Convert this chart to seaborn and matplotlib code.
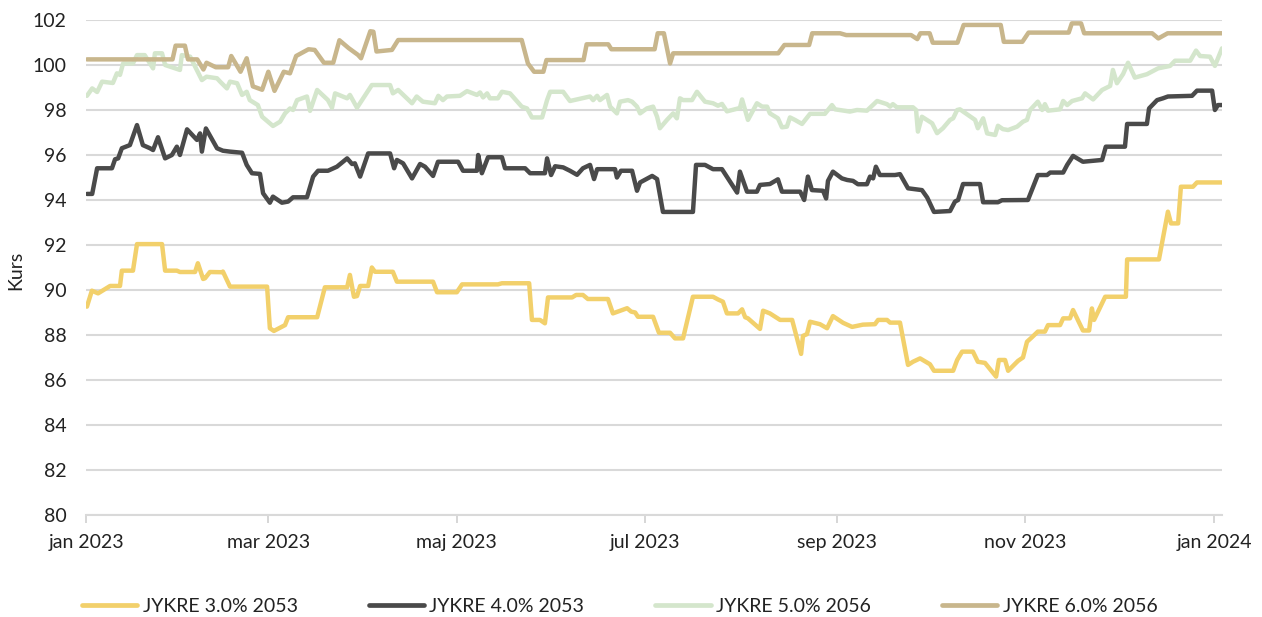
import pandas as pd
import matplotlib
matplotlib.use("Agg")
import matplotlib.pyplot as plt
import seaborn as sns

# Bond price series (Kurs); x positions are days counted from 1 Jan 2023
series_names = ["JYKRE 3.0% 2053", "JYKRE 4.0% 2053", "JYKRE 5.0% 2056", "JYKRE 6.0% 2056"]
series_colors = ["#F2D06B", "#4A4A4A", "#D4E6CC", "#C8B68C"]

days_30 = [0.3, 1.9, 3.9, 7.8, 11, 11.6, 15.2, 16.5, 24.6, 25.6,
           29.4, 30.4, 35.3, 36.2, 37.9, 38.5, 40.1, 44, 44.3, 46.6,
           58.6, 59.5, 60.8, 64.4, 65.4, 74.8, 77.3, 84.5, 85.4, 86.7,
           87.7, 88.7, 91.3, 92.5, 93.5, 99.3, 100.6, 112.3, 113.6, 120,
           121.7, 133.3, 134.6, 143.4, 144.3, 146.9, 148.5, 149.5, 157.3, 158.6,
           160.8, 162.4, 168.9, 170.5, 175.1, 176.4, 177.7, 178.6, 183.5, 185.4,
           189, 190.6, 193.2, 196.4, 202.9, 204.5, 206.1, 207.4, 211, 212.3,
           213.3, 214.2, 218.1, 219.1, 221.3, 224.6, 228.5, 231.4, 232, 233.3,
           234.3, 237.5, 239.8, 241.7, 245, 247.9, 251.4, 255.3, 256.3, 259.2,
           260.2, 263.4, 266, 267.6, 269.9, 273.1, 274.4, 280.6, 281.9, 283.5,
           287, 288.6, 290.9, 294.5, 295.4, 297.4, 298.4, 301.6, 303.2, 304.5,
           306.1, 308, 310.3, 311.3, 315.2, 316.2, 318.4, 319.4, 322.6, 324.6,
           325.5, 326.2, 329.8, 336.5, 336.9, 347.2, 350.1, 351.1, 353.4, 354.3,
           358.2, 359.5, 367.6]
kurs_30 = [89.26, 89.97, 89.85, 90.18, 90.18, 90.86, 90.86, 92.04, 92.04, 90.86,
           90.86, 90.8, 90.8, 91.19, 90.49, 90.52, 90.8, 90.79, 90.82, 90.15,
           90.15, 88.3, 88.18, 88.44, 88.79, 88.79, 90.12, 90.12, 90.67, 89.7,
           89.73, 90.18, 90.18, 91.0, 90.81, 90.81, 90.37, 90.37, 89.9, 89.9,
           90.25, 90.25, 90.3, 90.3, 88.67, 88.67, 88.52, 89.67, 89.67, 89.78,
           89.78, 89.6, 89.6, 88.96, 89.19, 89.04, 89.0, 88.81, 88.81, 88.1,
           88.1, 87.85, 87.85, 89.7, 89.7, 89.58, 89.48, 88.96, 88.96, 89.14,
           88.79, 88.74, 88.27, 89.08, 88.96, 88.67, 88.67, 87.16, 87.96, 88.04,
           88.59, 88.48, 88.3, 88.84, 88.54, 88.36, 88.46, 88.48, 88.67, 88.67,
           88.55, 88.55, 86.67, 86.81, 86.96, 86.7, 86.41, 86.41, 86.89, 87.26,
           87.26, 86.81, 86.76, 86.15, 86.89, 86.89, 86.41, 86.85, 87.0, 87.7,
           87.9, 88.15, 88.15, 88.44, 88.44, 88.74, 88.74, 89.11, 88.2, 88.2,
           89.18, 88.67, 89.7, 89.7, 91.36, 91.36, 93.48, 92.96, 92.96, 94.59,
           94.59, 94.78, 94.78]

days_40 = [0.3, 2, 3.6, 8.4, 9.4, 10.4, 11.6, 14.2, 16.5, 18.4,
           20.7, 21.7, 23.3, 25.6, 27.8, 29.4, 30.4, 32.7, 35.9, 36.9,
           37.5, 38.8, 42.4, 44.3, 46.6, 50.5, 52, 53.7, 56.3, 57.3,
           59.5, 60.5, 63.4, 65.4, 67, 71.5, 73.5, 75.1, 78.3, 81.2,
           84.5, 86.1, 87, 88.7, 91.3, 98.4, 99.7, 100.6, 102.6, 105.5,
           108.1, 109.7, 112.3, 113.9, 120.4, 122, 126.5, 126.9, 128.1, 130.1,
           134.6, 135.6, 142.1, 143.7, 148.5, 149.2, 150.5, 151.8, 154.4, 156.6,
           158.9, 160.8, 163.1, 164.4, 165.4, 171.2, 171.8, 173.1, 176.7, 178.3,
           179.3, 183.2, 184.8, 186.7, 196.4, 197.4, 200.3, 202.9, 205.8, 210.7,
           211.6, 213.9, 217.1, 218.1, 221.3, 223.9, 225.2, 231.1, 232.4, 233.6,
           234.9, 238.5, 239.5, 240.1, 241.7, 244.6, 246.3, 248.2, 249.8, 252.7,
           253.7, 254.7, 255.6, 256.9, 261.8, 263.4, 266, 270.5, 272.2, 274.4,
           279.6, 281.2, 282.2, 283.8, 289.3, 290.3, 295.1, 296.4, 304.8, 308,
           311, 312, 316.2, 317.5, 319.4, 322.6, 328.8, 330, 336.2, 336.9,
           343.3, 344, 346.6, 348.5, 350.1, 357.9, 359.5, 364.4, 365.3, 366.3,
           367.6]
kurs_40 = [94.27, 94.27, 95.41, 95.41, 95.81, 95.85, 96.3, 96.44, 97.33, 96.44,
           96.3, 96.22, 96.79, 95.85, 96.0, 96.37, 96.0, 97.14, 96.67, 96.96,
           96.15, 97.18, 96.3, 96.19, 96.15, 96.1, 95.56, 95.19, 95.16, 94.3,
           93.88, 94.15, 93.88, 93.93, 94.12, 94.12, 95.04, 95.3, 95.3, 95.48,
           95.85, 95.6, 95.63, 95.04, 96.07, 96.07, 95.41, 95.78, 95.63, 94.96,
           95.6, 95.48, 95.07, 95.7, 95.7, 95.3, 95.3, 96.0, 95.19, 95.9,
           95.9, 95.41, 95.41, 95.19, 95.19, 95.85, 95.11, 95.5, 95.45, 95.3,
           95.12, 95.41, 95.56, 94.93, 95.37, 95.37, 95.0, 95.3, 95.3, 94.41,
           94.78, 95.07, 94.93, 93.47, 93.47, 95.56, 95.56, 95.37, 95.37, 94.33,
           95.26, 94.37, 94.37, 94.67, 94.71, 94.92, 94.37, 94.37, 94.0, 95.04,
           94.44, 94.41, 94.07, 94.85, 95.26, 94.96, 94.89, 94.85, 94.7, 94.7,
           95.04, 94.96, 95.48, 95.11, 95.11, 95.15, 94.52, 94.44, 94.11, 93.47,
           93.51, 93.93, 94.0, 94.71, 94.71, 93.9, 93.9, 93.99, 94.0, 95.11,
           95.11, 95.22, 95.22, 95.56, 95.96, 95.7, 95.78, 96.37, 96.37, 97.38,
           97.38, 98.07, 98.44, 98.52, 98.6, 98.63, 98.86, 98.86, 98.0, 98.22,
           98.22]

days_50 = [0.3, 2, 3.6, 5.2, 8.7, 10, 11, 12, 15.2, 16.5,
           19, 21.7, 22.3, 24.6, 25.6, 28.8, 30.4, 31, 33.7, 37.5,
           39, 42.4, 43.4, 45.6, 46.6, 48.9, 50.5, 52, 53, 55.6,
           57, 60.5, 62.8, 64.4, 66, 67, 68.3, 71.5, 72.5, 74.8,
           78.3, 79.6, 80.6, 84.5, 85.4, 87.7, 92.5, 98.4, 99.3, 101,
           105.5, 107, 109, 112.9, 114, 115.5, 116.8, 121, 123.3, 126.5,
           127.5, 128.5, 129.8, 130.7, 133.3, 134.6, 137.2, 141, 142.7, 144.3,
           147.6, 149.2, 150.2, 154.4, 156.6, 163.1, 164.1, 165.4, 166.3, 168.6,
           169.6, 171.8, 172.8, 175.4, 176.7, 178.3, 179.3, 181.5, 183.5, 184.8,
           185.7, 188, 190, 191.2, 192.2, 193.2, 196.1, 197.7, 200.3, 202.9,
           204.5, 205.8, 207.4, 211.6, 212.3, 214.2, 217.1, 218.8, 220.4, 221.3,
           223.9, 225.2, 226.8, 227.8, 229.4, 231.7, 234.3, 239.1, 241.4, 242.4,
           247.2, 249.5, 252.7, 256, 259.2, 260.2, 261.1, 262.4, 267.6, 268.6,
           269.2, 270.5, 273.8, 275.4, 277.3, 279.6, 280.6, 281.9, 282.8, 285.4,
           287.7, 288.6, 290.3, 291.6, 294.2, 295.1, 296.7, 298.4, 301.3, 303.2,
           304.5, 305.5, 308, 309.4, 310.3, 311.3, 315.2, 316.2, 317.5, 319.1,
           322.3, 323.3, 325.9, 328.8, 331.4, 332.3, 333.6, 335.6, 337.2, 339.4,
           343.3, 346.9, 350.8, 352.4, 357.3, 359.2, 360.5, 363.7, 365.3, 367.6]
kurs_50 = [98.63, 98.96, 98.8, 99.26, 99.2, 99.63, 99.56, 100.07, 100.07, 100.44,
           100.44, 99.85, 100.52, 100.52, 100.0, 99.85, 99.78, 100.44, 100.37, 99.33,
           99.48, 99.41, 99.26, 98.96, 99.26, 99.19, 98.67, 98.81, 98.44, 98.22,
           97.7, 97.29, 97.48, 97.85, 98.07, 98.0, 98.44, 98.6, 97.96, 98.89,
           98.44, 98.1, 98.74, 98.52, 98.67, 98.1, 99.11, 99.11, 98.74, 98.89,
           98.3, 98.6, 98.37, 98.3, 98.63, 98.44, 98.6, 98.63, 98.84, 98.67,
           98.78, 98.56, 98.74, 98.52, 98.52, 98.81, 98.74, 98.15, 98.07, 97.67,
           97.67, 98.44, 98.81, 98.81, 98.4, 98.6, 98.44, 98.63, 98.44, 98.67,
           98.15, 97.85, 98.37, 98.44, 98.37, 98.15, 97.85, 98.07, 98.15, 97.7,
           97.19, 97.56, 97.85, 97.63, 98.52, 98.44, 98.44, 98.81, 98.37, 98.3,
           98.19, 98.27, 97.94, 98.09, 98.47, 97.56, 98.3, 98.15, 98.15, 97.85,
           97.63, 97.23, 97.26, 97.67, 97.56, 97.38, 97.83, 97.83, 98.22, 98.03,
           97.93, 98.0, 97.97, 98.4, 98.26, 98.15, 98.26, 98.12, 98.12, 98.0,
           97.04, 97.7, 97.41, 96.97, 97.19, 97.56, 97.63, 98.0, 98.03, 97.78,
           97.56, 97.19, 97.63, 96.96, 96.89, 97.3, 97.15, 97.11, 97.26, 97.48,
           97.56, 98.0, 98.37, 98.0, 98.26, 97.97, 98.03, 98.4, 98.22, 98.4,
           98.52, 98.74, 98.47, 98.89, 99.07, 99.78, 99.19, 99.6, 100.1, 99.44,
           99.59, 99.85, 99.96, 100.19, 100.19, 100.64, 100.4, 100.37, 99.96, 100.74]

days_60 = [0.3, 28, 29, 32, 33, 36, 38, 39, 42, 46,
           47, 50, 52, 54, 57, 59, 61, 64, 66, 68,
           72, 74, 77, 80, 82, 85, 88, 89, 92, 93,
           94, 99, 101, 141, 143, 145, 148, 149, 161, 162,
           169, 170, 184, 185, 187, 189, 190, 224, 226, 234,
           235, 244, 246, 267, 269, 270, 273, 274, 282, 284,
           296, 297, 303, 305, 318, 319, 322, 323, 345, 347,
           350, 367.6]
kurs_60 = [100.25, 100.25, 100.86, 100.86, 100.25, 100.25, 99.8, 100.1, 99.9, 99.9,
           100.4, 99.7, 100.3, 99.05, 98.9, 99.7, 98.85, 99.7, 99.63, 100.4,
           100.7, 100.67, 100.1, 100.1, 101.1, 100.75, 100.45, 100.3, 101.5, 101.48,
           100.6, 100.67, 101.11, 101.11, 100.07, 99.7, 99.7, 100.22, 100.22, 100.92,
           100.92, 100.7, 100.7, 101.41, 101.41, 100.07, 100.52, 100.52, 100.89, 100.89,
           101.41, 101.41, 101.33, 101.33, 101.15, 101.41, 101.41, 100.99, 100.99, 101.78,
           101.78, 101.03, 101.03, 101.44, 101.44, 101.85, 101.85, 101.41, 101.41, 101.18,
           101.41, 101.41]

# Axis ticks
tick_dates = ["2023-01-01", "2023-03-01", "2023-05-01", "2023-07-01",
              "2023-09-01", "2023-11-01", "2024-01-01"]
tick_labels = ["jan 2023", "mar 2023", "maj 2023", "jul 2023",
               "sep 2023", "nov 2023", "jan 2024"]
y_ticks = list(range(80, 103, 2))

start = pd.Timestamp("2023-01-01")
frames = []
for name, d, k in zip(series_names,
                      [days_30, days_40, days_50, days_60],
                      [kurs_30, kurs_40, kurs_50, kurs_60]):
    frames.append(pd.DataFrame({
        "Dato": start + pd.to_timedelta(d, unit="D"),
        "Kurs": k,
        "Serie": name,
    }))
df = pd.concat(frames, ignore_index=True)

sns.set_theme(style="white")
plt.rcParams["font.family"] = ["Lato", "DejaVu Sans"]

FS = 14
TXT = "#222222"
W, H = 1262, 617
fig = plt.figure(figsize=(W / 100, H / 100), dpi=100)
ax = fig.add_axes([86 / W, 1 - 515 / H, (1222 - 86) / W, (515 - 20) / H])

sns.lineplot(data=df, x="Dato", y="Kurs", hue="Serie", hue_order=series_names,
             palette=series_colors, linewidth=3.2, estimator=None, sort=False,
             legend=False, ax=ax)
for ln in ax.lines:
    ln.set_solid_joinstyle("round")
    ln.set_solid_capstyle("round")

grid_col = "#D9D9D9"
ax.set_ylim(80, 102)
ax.set_yticks(y_ticks)
ax.set_xlim(start, start + pd.Timedelta(days=367.6))
ax.set_xticks(pd.to_datetime(tick_dates))
ax.set_xticklabels(tick_labels)

ax.yaxis.grid(True, color=grid_col, linewidth=1.5)
ax.xaxis.grid(False)
ax.set_axisbelow(True)
for side in ["left", "right", "top"]:
    ax.spines[side].set_visible(False)
ax.spines["bottom"].set_color(grid_col)
ax.spines["bottom"].set_linewidth(1.5)

ax.tick_params(axis="x", length=6, width=1.2, color="#D0D0D0", pad=8,
               labelsize=FS, labelcolor=TXT, bottom=True)
ax.tick_params(axis="y", length=0, pad=14, labelsize=FS, labelcolor=TXT)

ax.set_xlabel("")
ax.set_ylabel("Kurs", fontsize=FS, color=TXT)
ax.yaxis.set_label_coords((24 - 86) / (1222 - 86), 0.495)

handles = [plt.Line2D([], [], color=c, linewidth=3.4, solid_capstyle="round")
           for c in series_colors]
fig.legend(handles, series_names, loc="center", bbox_to_anchor=(0.491, 0.017),
           ncol=4, frameon=False, fontsize=FS, handlelength=2.85,
           handletextpad=0.28, columnspacing=3.65, labelcolor=TXT)

fig.savefig("out.png", dpi=100, facecolor="white")
